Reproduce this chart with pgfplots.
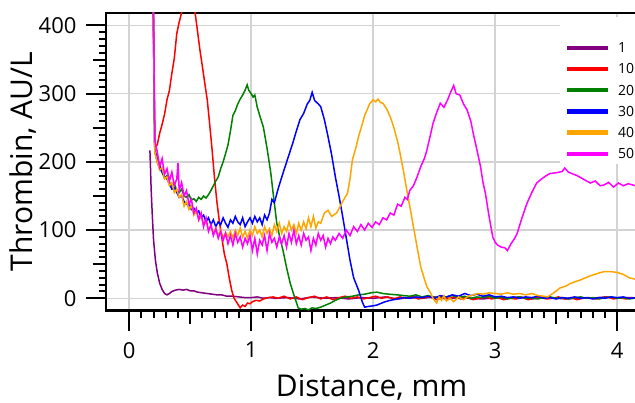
\documentclass[border=0pt]{standalone}
\usepackage{fontspec}
\setmainfont{Open Sans}
\usepackage{pgfplots}
\pgfplotsset{compat=1.18}
\definecolor{c1}{RGB}{128,0,128}
\definecolor{c10}{RGB}{255,0,0}
\definecolor{c20}{RGB}{0,128,0}
\definecolor{c30}{RGB}{0,0,255}
\definecolor{c40}{RGB}{255,165,0}
\definecolor{c50}{RGB}{255,0,255}
\definecolor{gridgray}{RGB}{211,211,211}
\begin{document}
\begin{tikzpicture}
\begin{axis}[
  scale only axis,
  width=531.3pt, height=297.9pt,
  xmin=-0.19, xmax=4.165,
  ymin=-18.2, ymax=418.6,
  xtick={0,1,2,3,4}, ytick={0,100,200,300,400},
  minor x tick num=9, minor y tick num=9,
  extra x ticks={0.5,1.5,2.5,3.5},
  extra y ticks={50,150,250,350},
  extra tick style={major tick length=13pt, grid=none},
  extra x tick labels={}, extra y tick labels={},
  xtick pos=bottom, ytick pos=left,
  tick align=outside,
  major tick length=20pt, minor tick length=7pt,
  every tick/.style={black, line width=2pt},
  axis line style={line width=2.5pt},
  grid=major,
  major grid style={line width=1.5pt, gridgray},
  /pgf/number format/assume math mode=true,
  tick label style={font=\fontsize{22}{22}\selectfont},
  xticklabel style={yshift=-8pt},
  yticklabel style={xshift=-6pt},
  label style={font=\fontsize{30}{30}\selectfont},
  xlabel={Distance, mm},
  ylabel={Thrombin, AU/L},
  xlabel style={at={(axis description cs:0.5,-0.2897)}, anchor=base},
  ylabel style={at={(axis description cs:-0.1375,0.5)}, anchor=base},
  legend style={at={(axis description cs:0.8532,0.4925)}, anchor=south west,
    draw=none, fill=white, inner xsep=5pt, inner ysep=5pt,
    font=\fontsize{14}{14}\selectfont, row sep=11.2pt, column sep=8pt,
    nodes={text height=10pt, text depth=0pt, inner sep=0pt}},
  legend cell align=left,
  legend image code/.code={\draw[#1, line width=4.5pt] (0pt,0pt) -- (41pt,0pt);},
  every axis plot/.append style={line width=1.5pt},
]
\addlegendimage{empty legend}\addlegendentry{}
\addplot[c1] coordinates {(0.17,217)(0.175,190)(0.18,160)(0.19,120)(0.20,85)(0.215,56)(0.23,38)(0.25,22)(0.27,13)(0.29,7)(0.31,5)(0.33,7)(0.35,10)(0.38,12)(0.41,13)(0.44,12)(0.47,13)(0.50,11)(0.53,11)(0.56,9)(0.60,8)(0.64,7)(0.68,6)(0.72,5)(0.76,5)(0.80,3)(0.85,3)(0.90,2)(0.95,1)(1.00,1)(1.05,2)(1.10,0)(1.15,1)(1.20,0)(1.3,1)(1.4,-1)(1.5,2)(1.6,0)(1.7,1)(1.8,-1)(1.9,1)(2.0,0)(2.1,2)(2.2,-1)(2.3,1)(2.4,0)(2.5,2)(2.6,-1)(2.7,1)(2.8,0)(2.9,-1)(3.0,1)(3.1,0)(3.2,2)(3.3,-1)(3.4,1)(3.5,0)(3.6,-1)(3.7,1)(3.8,0)(3.9,2)(4.0,0)(4.1,1)(4.17,0)};
\addlegendentry{1}
\addplot[c10] coordinates {(0.175,750)(0.21,222)(0.23,225)(0.25,242)(0.27,255)(0.29,270)(0.31,291)(0.33,305)(0.35,330)(0.37,352)(0.39,388)(0.41,405)(0.43,419)(0.46,435)(0.49,442)(0.52,432)(0.54,419)(0.56,392)(0.58,364)(0.60,340)(0.62,315)(0.64,291)(0.66,255)(0.68,217)(0.70,175)(0.72,140)(0.74,112)(0.76,88)(0.78,65)(0.80,51)(0.82,30)(0.84,12)(0.86,0)(0.885,-7)(0.91,-14)(0.93,-10)(0.95,-12)(0.97,-7)(0.99,-8)(1.01,-5)(1.04,-3)(1.07,-4)(1.10,-1)(1.14,1)(1.18,2)(1.22,0)(1.27,3)(1.32,-1)(1.37,2)(1.42,-2)(1.47,1)(1.52,3)(1.57,-1)(1.62,2)(1.67,-2)(1.72,1)(1.77,3)(1.82,0)(1.87,2)(1.92,-1)(1.97,1)(2.02,3)(2.07,0)(2.12,2)(2.17,-1)(2.22,2)(2.27,0)(2.32,3)(2.37,-1)(2.42,1)(2.47,2)(2.52,-2)(2.57,1)(2.62,0)(2.67,2)(2.72,-1)(2.77,1)(2.82,-2)(2.87,0)(2.92,2)(2.97,-1)(3.02,1)(3.07,-2)(3.12,0)(3.17,-1)(3.22,1)(3.27,-2)(3.32,0)(3.37,2)(3.42,-1)(3.47,0)(3.52,2)(3.57,-1)(3.62,1)(3.67,-2)(3.72,0)(3.77,1)(3.82,-1)(3.87,0)(3.92,2)(3.97,-1)(4.02,1)(4.07,-1)(4.12,1)(4.17,0)};
\addlegendentry{10}
\addplot[c20] coordinates {(0.175,800)(0.21,215)(0.23,200)(0.25,190)(0.27,185)(0.29,176)(0.31,180)(0.33,170)(0.35,165)(0.37,168)(0.39,158)(0.41,155)(0.43,160)(0.45,150)(0.47,148)(0.49,152)(0.51,144)(0.53,146)(0.55,142)(0.57,148)(0.59,145)(0.61,150)(0.63,147)(0.65,152)(0.67,158)(0.69,165)(0.71,172)(0.73,178)(0.75,190)(0.77,200)(0.79,212)(0.81,225)(0.83,245)(0.85,268)(0.87,275)(0.89,285)(0.91,292)(0.93,298)(0.95,305)(0.967,313)(0.98,305)(1.00,300)(1.016,295)(1.03,298)(1.05,280)(1.07,268)(1.10,251)(1.13,220)(1.16,185)(1.18,154)(1.21,110)(1.24,85)(1.26,71)(1.29,45)(1.32,22)(1.35,5)(1.385,-14)(1.41,-16)(1.44,-15)(1.47,-17)(1.50,-14)(1.53,-15)(1.57,-13)(1.61,-10)(1.65,-7)(1.69,-3)(1.73,0)(1.78,2)(1.83,3)(1.88,5)(1.93,6)(1.98,8)(2.03,9)(2.08,7)(2.13,6)(2.2,5)(2.25,4)(2.3,3)(2.35,5)(2.4,2)(2.45,4)(2.5,1)(2.55,3)(2.6,2)(2.65,4)(2.7,1)(2.75,3)(2.8,0)(2.85,2)(2.9,1)(2.95,3)(3.0,0)(3.05,2)(3.1,-1)(3.15,1)(3.2,2)(3.25,0)(3.3,1)(3.35,-1)(3.4,1)(3.45,2)(3.5,0)(3.55,1)(3.6,-1)(3.65,1)(3.7,2)(3.75,0)(3.8,1)(3.85,-1)(3.9,1)(3.95,2)(4.0,0)(4.05,1)(4.1,-1)(4.17,1)};
\addlegendentry{20}
\addplot[c30] coordinates {(0.175,850)(0.21,218)(0.23,205)(0.25,195)(0.27,185)(0.29,178)(0.31,175)(0.33,168)(0.35,160)(0.37,162)(0.39,155)(0.41,148)(0.43,150)(0.45,142)(0.47,138)(0.49,140)(0.51,130)(0.53,132)(0.55,125)(0.57,128)(0.59,118)(0.61,122)(0.63,112)(0.65,118)(0.67,108)(0.69,115)(0.71,105)(0.73,112)(0.75,108)(0.77,118)(0.79,110)(0.81,104)(0.83,115)(0.85,110)(0.87,120)(0.89,112)(0.91,108)(0.93,118)(0.95,105)(0.97,112)(0.99,118)(1.01,110)(1.03,120)(1.05,112)(1.07,118)(1.09,108)(1.11,122)(1.13,115)(1.15,125)(1.17,145)(1.19,140)(1.22,160)(1.26,183)(1.30,205)(1.34,227)(1.37,245)(1.40,262)(1.43,271)(1.46,285)(1.48,290)(1.50,302)(1.52,290)(1.55,285)(1.57,281)(1.60,262)(1.63,237)(1.66,210)(1.69,178)(1.72,150)(1.75,120)(1.78,88)(1.81,56)(1.84,30)(1.88,12)(1.91,-5)(1.93,-13)(1.96,-12)(2.00,-11)(2.03,-10)(2.07,-7)(2.10,-5)(2.14,-3)(2.2,-1)(2.25,1)(2.3,0)(2.35,2)(2.4,1)(2.45,3)(2.5,0)(2.55,4)(2.6,2)(2.65,5)(2.7,3)(2.75,7)(2.8,4)(2.85,6)(2.9,3)(2.95,5)(3.0,2)(3.05,3)(3.1,1)(3.15,2)(3.2,0)(3.25,2)(3.3,1)(3.35,3)(3.4,0)(3.45,1)(3.5,-1)(3.55,1)(3.6,0)(3.65,2)(3.7,0)(3.75,1)(3.8,-1)(3.85,1)(3.9,0)(3.95,2)(4.0,1)(4.05,2)(4.1,0)(4.17,1)};
\addlegendentry{30}
\addplot[c40] coordinates {(0.175,820)(0.21,215)(0.23,200)(0.25,188)(0.27,192)(0.29,175)(0.31,178)(0.33,165)(0.35,170)(0.37,155)(0.39,160)(0.41,148)(0.43,152)(0.45,135)(0.47,142)(0.49,130)(0.51,136)(0.53,122)(0.55,128)(0.57,115)(0.59,120)(0.61,108)(0.63,113)(0.65,100)(0.67,106)(0.69,95)(0.71,103)(0.73,92)(0.75,100)(0.77,88)(0.79,97)(0.81,90)(0.83,98)(0.85,88)(0.87,100)(0.89,92)(0.91,103)(0.93,90)(0.95,98)(0.97,88)(0.99,100)(1.01,92)(1.03,105)(1.05,95)(1.07,100)(1.09,90)(1.11,105)(1.13,95)(1.15,102)(1.17,92)(1.19,108)(1.21,98)(1.23,110)(1.25,95)(1.27,105)(1.29,98)(1.31,112)(1.33,100)(1.35,108)(1.37,95)(1.39,110)(1.41,100)(1.43,112)(1.45,102)(1.47,118)(1.49,105)(1.51,120)(1.53,103)(1.55,112)(1.57,110)(1.60,125)(1.63,129)(1.66,120)(1.70,125)(1.73,135)(1.76,145)(1.79,154)(1.81,175)(1.83,203)(1.86,222)(1.88,237)(1.91,255)(1.93,268)(1.95,276)(1.97,285)(2.00,291)(2.02,288)(2.04,292)(2.06,287)(2.08,286)(2.11,278)(2.14,266)(2.17,250)(2.20,230)(2.22,213)(2.25,185)(2.28,154)(2.31,125)(2.33,105)(2.36,75)(2.39,46)(2.42,28)(2.44,17)(2.47,8)(2.49,0)(2.52,-7)(2.54,2)(2.56,-3)(2.58,4)(2.60,-4)(2.63,0)(2.66,-5)(2.70,2)(2.74,-2)(2.78,3)(2.82,5)(2.86,7)(2.90,6)(2.95,8)(3.0,7)(3.05,6)(3.1,8)(3.15,6)(3.2,7)(3.25,5)(3.3,7)(3.35,4)(3.40,3)(3.43,2)(3.48,8)(3.53,15)(3.58,18)(3.62,22)(3.70,27)(3.78,33)(3.85,37)(3.89,39)(3.95,39)(4.0,38)(4.05,35)(4.10,30)(4.17,27)};
\addlegendentry{40}
\addplot[c50] coordinates {(0.175,880)(0.21,232)(0.23,215)(0.25,193)(0.27,205)(0.29,182)(0.31,190)(0.33,172)(0.35,185)(0.37,165)(0.39,175)(0.40,198)(0.41,158)(0.43,170)(0.45,150)(0.47,158)(0.49,138)(0.51,145)(0.53,125)(0.55,132)(0.57,115)(0.59,125)(0.61,105)(0.63,118)(0.65,98)(0.67,108)(0.69,92)(0.71,102)(0.73,88)(0.75,98)(0.77,85)(0.79,95)(0.81,80)(0.83,92)(0.85,78)(0.87,95)(0.89,82)(0.91,90)(0.93,75)(0.95,88)(0.97,80)(0.99,92)(1.01,70)(1.03,88)(1.05,65)(1.07,85)(1.09,78)(1.11,92)(1.13,70)(1.15,95)(1.17,82)(1.19,88)(1.21,75)(1.23,90)(1.25,80)(1.27,92)(1.29,75)(1.31,95)(1.33,82)(1.35,100)(1.37,80)(1.39,92)(1.41,78)(1.43,95)(1.45,85)(1.47,90)(1.49,70)(1.51,88)(1.53,78)(1.55,95)(1.57,85)(1.59,92)(1.61,75)(1.63,88)(1.65,80)(1.67,90)(1.69,85)(1.72,95)(1.75,88)(1.78,100)(1.81,92)(1.84,105)(1.87,98)(1.90,108)(1.93,100)(1.96,110)(1.99,104)(2.02,112)(2.05,108)(2.08,118)(2.11,115)(2.14,125)(2.17,122)(2.20,138)(2.23,135)(2.26,148)(2.28,145)(2.30,158)(2.33,165)(2.36,178)(2.39,193)(2.42,205)(2.44,217)(2.47,240)(2.49,256)(2.52,272)(2.55,286)(2.58,280)(2.61,291)(2.63,300)(2.66,312)(2.68,300)(2.71,298)(2.74,285)(2.77,276)(2.80,260)(2.82,242)(2.85,218)(2.88,193)(2.90,170)(2.92,154)(2.95,120)(2.98,90)(3.00,82)(3.02,78)(3.05,75)(3.08,74)(3.10,70)(3.13,80)(3.16,88)(3.18,95)(3.22,118)(3.26,139)(3.30,155)(3.34,169)(3.38,175)(3.42,180)(3.45,183)(3.50,184)(3.55,186)(3.57,191)(3.60,185)(3.64,182)(3.67,180)(3.71,176)(3.75,172)(3.78,169)(3.82,172)(3.86,165)(3.89,166)(3.93,170)(3.97,163)(4.01,169)(4.05,165)(4.09,168)(4.13,166)(4.17,164)};
\addlegendentry{50}
\end{axis}
\pgfresetboundingbox
\path[use as bounding box] ([shift={(-106pt,-92.3pt)}]current axis.south west) rectangle ++(635pt,403pt);
\end{tikzpicture}
\end{document}
